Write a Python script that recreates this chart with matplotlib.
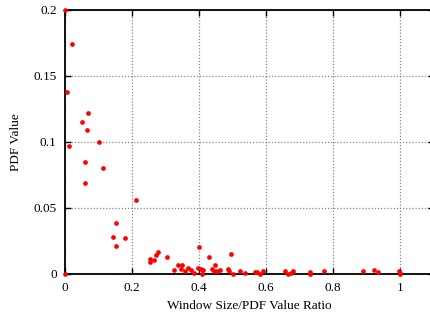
import numpy as np
import matplotlib
matplotlib.use("Agg")
import matplotlib.pyplot as plt

# window size / pdf value ratio vs pdf value
ratio = [0.0, 0.020, 0.006, 0.069, 0.050, 0.066, 0.100, 0.012, 0.060, 0.113,
         0.060, 0.212, 0.152, 0.143, 0.179, 0.152, 0.254, 0.254, 0.267, 0.272,
         0.278, 0.0, 0.303, 0.326, 0.338, 0.350, 0.346, 0.358, 0.368, 0.375,
         0.386, 0.396, 0.400, 0.405, 0.411, 0.410, 0.429, 0.438, 0.447, 0.445,
         0.455, 0.462, 0.487, 0.491, 0.497, 0.502, 0.522, 0.538, 0.567, 0.574,
         0.581, 0.592, 0.657, 0.667, 0.674, 0.681, 0.731, 0.731, 0.772, 0.890,
         0.922, 0.934, 0.996, 1.0, 1.0]
pdf_val = [0.2, 0.174, 0.138, 0.122, 0.115, 0.109, 0.100, 0.097, 0.085, 0.080,
           0.069, 0.056, 0.039, 0.028, 0.027, 0.021, 0.011, 0.009, 0.0104, 0.0144,
           0.0169, 0.0, 0.0126, 0.003, 0.0066, 0.0066, 0.004, 0.0025, 0.0048, 0.003,
           0.001, 0.0048, 0.0207, 0.0035, 0.003, 0.0, 0.0129, 0.0038, 0.0068, 0.0025,
           0.0025, 0.003, 0.004, 0.002, 0.0152, 0.0, 0.0023, 0.0005, 0.0015, 0.0015,
           0.0, 0.0025, 0.0025, 0.0, 0.001, 0.002, 0.0015, 0.0, 0.002, 0.002,
           0.0028, 0.0015, 0.0025, 0.001, 0.0]

xticks = [0, 0.2, 0.4, 0.6, 0.8, 1]
xticklabels = ["0", "0.2", "0.4", "0.6", "0.8", "1"]
yticks = [0, 0.05, 0.1, 0.15, 0.2]
yticklabels = ["0", "0.05", "0.1", "0.15", "0.2"]

plt.rcParams['font.family'] = ['Liberation Serif', 'DejaVu Serif']
plt.rcParams['font.size'] = 9.5

fig = plt.figure(figsize=(4.3, 3.15), dpi=100)
ax = fig.add_axes([65/430, 1-274/315, 368.5/430, 264/315])

ax.plot(ratio, pdf_val, 'o', color='red', markersize=3.4, markeredgewidth=0,
        clip_on=False, zorder=3)

ax.set_xlim(0, 1.1)
ax.set_ylim(0, 0.2)
ax.set_xticks(xticks)
ax.set_xticklabels(xticklabels)
ax.set_yticks(yticks)
ax.set_yticklabels(yticklabels)
ax.tick_params(direction='in', length=4, width=1, top=True, right=True, pad=6)
ax.grid(True, linestyle=(0, (1, 1.5)), color='#888888', linewidth=0.9)
for s in ax.spines.values():
    s.set_linewidth(1.3)

ax.set_xlabel("Window Size/PDF Value Ratio", labelpad=4)
ax.set_ylabel("PDF Value", labelpad=8)

fig.savefig("out.png", dpi=100)
